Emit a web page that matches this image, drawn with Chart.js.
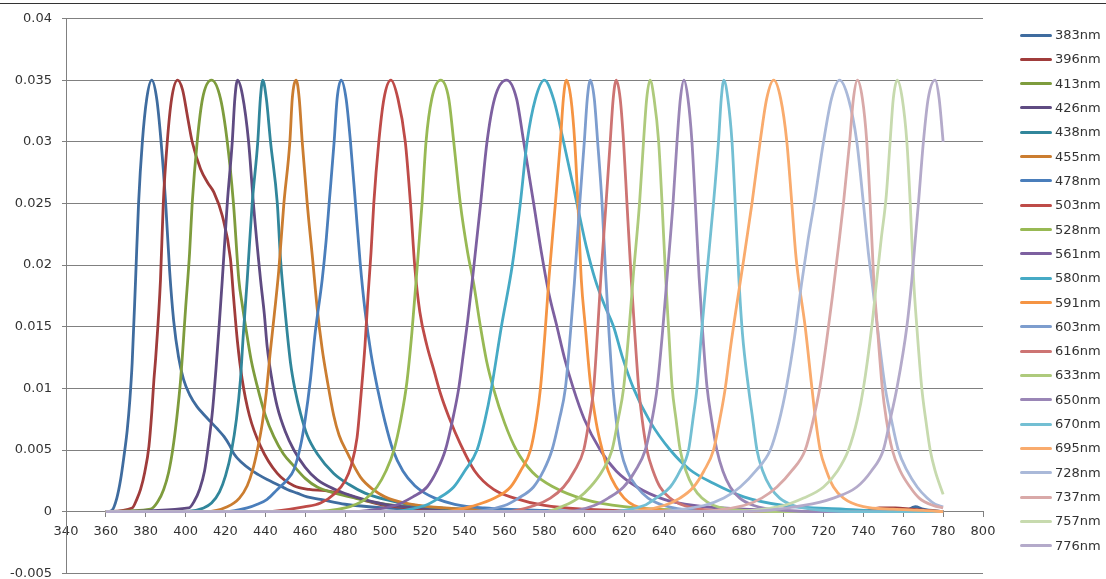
<!DOCTYPE html>
<html>
<head>
<meta charset="utf-8">
<script src="https://cdn.jsdelivr.net/npm/chart.js@4.4.1/dist/chart.umd.min.js"></script>
<style>
    html, body { margin: 0; padding: 0; background: #fff; }
    #wrap { position: relative; width: 1106px; height: 579px; overflow: hidden; }
    #topline { position: absolute; left: 0; top: 3px; width: 1106px; height: 1px; background: #333; }
    #legend { position: absolute; left: 1020px; top: 0; font-family: 'DejaVu Sans', sans-serif; font-size: 13px; color: #333; }
    .item { position: absolute; left: 0; height: 16px; white-space: nowrap; }
    .swatch { position: absolute; left: 0; top: 6.5px; width: 32px; height: 3px; border-radius: 1.5px; }
    .label { position: absolute; left: 35px; top: 0; line-height: 16px; }
</style>
</head>
<body>
<div id="wrap">
    <canvas id="chart" width="1106" height="579"></canvas>
    <div id="topline"></div>
    <div id="legend"></div>
</div>
<script>
// --- Data: [wavelength nm, value] ---
const names = ['383nm', '396nm', '413nm', '426nm', '438nm', '455nm', '478nm', '503nm', '528nm', '561nm', '580nm',
    '591nm', '603nm', '616nm', '633nm', '650nm', '670nm', '695nm', '728nm', '737nm', '757nm', '776nm']

const colors = ['#3f6c9f', '#a03c3b', '#7e9c3d', '#5f4b82', '#31869b', '#cb7d30', '#4a7ebb', '#be4b48', '#98b954', '#7d60a0', '#46aac5',
    '#f59443', '#7d9dce', '#cd7473', '#aeca7c', '#9a86b6', '#73bfd3', '#f9ab6d', '#aab9d9', '#d9a9a8', '#c7daae', '#b4aaca']

const xTicks = { min: 340, max: 800, step: 20 }
const yTicks = { min: -0.005, max: 0.04, step: 0.005 }

const s383 = [[360,0],[363,0.0001],[365.5,0.0011],[367.4,0.0026],[369,0.0044],[370.7,0.0066],[372,0.009],[373.2,0.0121],[374.9,0.0188],[376.4,0.025],[378.3,0.030],[380.5,0.0335],[383,0.035],[385.5,0.0335],[387.7,0.030],[390,0.025],[392,0.0195],[394,0.0155],[396.5,0.0125],[399,0.0107],[402,0.0095],[405.8,0.0085],[409,0.0079],[412.5,0.0073],[416,0.0067],[419.2,0.0061],[422,0.0054],[424.2,0.0047],[428,0.004],[432.6,0.0034],[436.5,0.003],[440.9,0.0026],[446,0.0022],[451,0.0018],[456,0.0015],[461,0.0012],[467.7,0.001],[480,0.0006],[500,0.0003],[530,0.0001],[600,0],[760,0],[766,0.0004],[770,0.0002],[780,0]]
const s396 = [[360,0],[373.2,0.0003],[375.5,0.001],[377.4,0.0018],[379.5,0.0032],[381.6,0.0053],[383,0.008],[384.1,0.0107],[385,0.0125],[387.4,0.0188],[388.8,0.025],[390.8,0.030],[393,0.0335],[396,0.035],[398.5,0.0342],[401,0.032],[403.3,0.030],[407.5,0.0278],[411,0.0267],[414.2,0.0259],[418.4,0.024],[422.5,0.0205],[424,0.0175],[426,0.0138],[428.4,0.0107],[432,0.0078],[437.6,0.0053],[446,0.0031],[454.3,0.0021],[462,0.0018],[470,0.0017],[480,0.0014],[490,0.0009],[500,0.0005],[520,0.0002],[560,0],[740,0],[748,0.0003],[756,0.0003],[764,0.0002],[780,0]]
const s413 = [[360,0],[382.4,0.0002],[386,0.0008],[389,0.0018],[391.5,0.0032],[393.5,0.005],[395.5,0.0075],[397.5,0.0107],[400,0.0165],[402,0.021],[403.3,0.025],[405.8,0.030],[408.5,0.0335],[413,0.035],[417.5,0.0335],[420.9,0.030],[424,0.025],[426.7,0.0188],[428.4,0.0168],[430.9,0.0142],[433,0.0122],[435.9,0.0102],[440,0.0078],[444.2,0.0061],[449,0.0047],[454.3,0.0037],[460,0.0027],[466,0.002],[475,0.0015],[485,0.0011],[500,0.0006],[520,0.0003],[560,0.0001],[600,0],[780,0]]
const s426 = [[360,0],[401.6,0.0003],[404.5,0.0009],[407,0.0018],[409.5,0.0033],[411.5,0.0055],[413.5,0.0082],[415.2,0.0115],[416.8,0.015],[418.4,0.0188],[420.9,0.025],[423.4,0.030],[424.7,0.0335],[426,0.035],[428.5,0.0338],[431.6,0.030],[434,0.025],[437.6,0.0188],[439.5,0.016],[440.9,0.0134],[443.5,0.0105],[446,0.0085],[450,0.0065],[454.3,0.005],[460,0.0036],[466,0.0026],[475,0.0018],[485,0.0012],[500,0.0006],[530,0.0002],[580,0],[780,0]]
const s438 = [[360,0],[400,0],[409,0.0003],[413,0.0007],[417,0.0016],[420,0.0029],[423,0.0049],[425.5,0.0075],[427.5,0.0107],[429,0.0145],[430.9,0.0188],[433.4,0.025],[436.2,0.030],[437.5,0.0335],[438.7,0.035],[440.5,0.0335],[442.6,0.030],[446,0.025],[447.6,0.0205],[449.3,0.0173],[452.6,0.0121],[455,0.0098],[457.6,0.008],[461,0.0062],[466,0.0047],[474.3,0.0031],[482,0.0022],[490,0.0015],[500,0.001],[520,0.0004],[560,0.0001],[600,0],[780,0]]
const s455 = [[360,0],[410,0],[420.9,0.0004],[427,0.0011],[430.9,0.0021],[433.5,0.0033],[436,0.005],[438.5,0.0072],[440.5,0.0097],[442.5,0.013],[444.5,0.016],[446.7,0.0195],[449.3,0.025],[452.3,0.030],[453.5,0.0335],[455.5,0.035],[457,0.0335],[458.5,0.030],[461,0.025],[463.7,0.0205],[466,0.0165],[468.5,0.0132],[471,0.0107],[474.3,0.0078],[477,0.0062],[481,0.0048],[487.7,0.0028],[494,0.0018],[500,0.0012],[510,0.0007],[530,0.0003],[560,0.0001],[600,0],[780,0]]
const s478 = [[360,0],[420,0],[430.9,0.0003],[436,0.0006],[440.9,0.001],[446,0.0018],[451,0.0026],[454.3,0.0034],[457.6,0.0053],[460,0.0075],[462.6,0.0107],[465,0.0145],[468.5,0.0188],[470.5,0.022],[472,0.025],[474.5,0.030],[476,0.0335],[478,0.035],[480.5,0.0335],[482.7,0.030],[485.2,0.025],[487.5,0.0203],[490,0.0163],[493,0.0128],[496.5,0.0098],[500,0.0073],[504,0.005],[509,0.0033],[515,0.0021],[520,0.0015],[525,0.0011],[535,0.0006],[550,0.0003],[580,0.0001],[620,0],[780,0]]
const s503 = [[360,0],[440,0],[460,0.0004],[467.7,0.0007],[475,0.0015],[480,0.0025],[483,0.0037],[486,0.006],[488,0.0095],[490,0.0135],[491.5,0.0175],[493,0.021],[494.4,0.025],[496.9,0.030],[499.5,0.0335],[503,0.035],[506.5,0.0335],[510.2,0.030],[512.8,0.025],[515,0.0198],[517.5,0.0162],[521,0.0135],[524.5,0.0115],[528,0.0095],[532,0.0077],[537.8,0.0055],[545,0.0033],[554.5,0.0018],[565,0.0011],[580,0.0005],[600,0.0002],[640,0],[780,0]]
const s528 = [[360,0],[460,0],[480,0.0003],[490,0.001],[496,0.002],[500.5,0.0033],[504.5,0.005],[508,0.0075],[511,0.0105],[513.5,0.0145],[516,0.0195],[518.6,0.025],[520.6,0.030],[523.5,0.0335],[528,0.035],[532,0.0335],[534.5,0.030],[537.8,0.025],[541.5,0.021],[544.5,0.0185],[547.9,0.015],[551,0.0122],[554.4,0.01],[560,0.0072],[565.9,0.005],[574,0.0032],[584.5,0.002],[600,0.001],[620,0.0004],[650,0.0001],[700,0],[780,0]]
const s561 = [[360,0],[480,0],[505,0.0005],[514,0.0012],[521.1,0.002],[526,0.0033],[530.3,0.005],[534,0.0075],[537,0.01],[539.5,0.013],[541.5,0.0155],[544,0.019],[548,0.025],[551.2,0.030],[555,0.0335],[561,0.035],[566,0.0335],[569.6,0.030],[574.6,0.025],[578.5,0.021],[582.1,0.0178],[586.3,0.015],[590,0.0125],[594.5,0.01],[600,0.0075],[608,0.005],[616,0.0033],[626.4,0.002],[640,0.001],[655,0.0005],[680,0.0002],[720,0],[780,0]]
const s580 = [[360,0],[500,0],[520,0.0005],[527,0.0011],[534.5,0.002],[540,0.0033],[546.2,0.005],[550,0.0073],[553.4,0.01],[558.4,0.015],[563.9,0.02],[567.9,0.025],[571.3,0.030],[575.5,0.0335],[580,0.035],[584.5,0.0335],[589.6,0.030],[596.3,0.025],[601,0.0215],[605.5,0.0188],[610,0.0168],[614.7,0.015],[619,0.0126],[624.7,0.01],[633,0.0073],[643.1,0.005],[653,0.0034],[664.7,0.0023],[680,0.0012],[700,0.0005],[730,0.0002],[760,0],[780,0]]
const s591 = [[360,0],[530,0],[545,0.0005],[555,0.0011],[563,0.002],[568,0.0033],[573,0.005],[576,0.0075],[578,0.01],[580.3,0.0145],[582.3,0.019],[585.5,0.025],[588,0.030],[589.5,0.0335],[591,0.035],[593.3,0.0335],[595.2,0.030],[596.8,0.025],[598.5,0.0188],[600.5,0.015],[603,0.0105],[606,0.0072],[609,0.005],[612,0.0033],[616,0.002],[620,0.0011],[625,0.0005],[640,0.0001],[660,0],[780,0]]
const s603 = [[360,0],[540,0],[560,0.0005],[567,0.0011],[574.5,0.002],[579.5,0.0033],[583.8,0.005],[587.5,0.0075],[590.5,0.01],[593.2,0.0148],[595,0.0185],[597.7,0.025],[600,0.030],[601.5,0.0335],[603,0.035],[605,0.0335],[606.7,0.030],[608.9,0.025],[610.8,0.019],[612.4,0.0145],[614.1,0.0105],[616,0.0074],[618.3,0.005],[621.5,0.0033],[626.4,0.002],[632,0.0011],[640,0.0005],[655,0.0001],[680,0],[780,0]]
const s616 = [[360,0],[560,0],[575,0.0005],[583,0.0011],[589.6,0.002],[595,0.0033],[599.7,0.005],[602.5,0.0075],[604.7,0.01],[606.6,0.0145],[608.3,0.019],[610.9,0.025],[613,0.030],[614.5,0.0335],[616,0.035],[618,0.0335],[619.7,0.030],[621.4,0.025],[623.5,0.019],[625.3,0.0145],[627.3,0.01],[629,0.0075],[631.4,0.005],[634.5,0.0033],[638,0.002],[643,0.0011],[650,0.0005],[665,0.0001],[690,0],[780,0]]
const s633 = [[360,0],[580,0],[590,0.0005],[597,0.0011],[603,0.002],[609,0.0033],[613.9,0.005],[617,0.0075],[619.7,0.01],[622.3,0.0145],[624.5,0.019],[627.7,0.025],[629.7,0.030],[631.3,0.0335],[633,0.035],[635,0.0335],[637.3,0.030],[639,0.025],[640.8,0.019],[642.4,0.0145],[644,0.0102],[646,0.0075],[648.1,0.005],[651,0.0033],[654.6,0.002],[659,0.0011],[665,0.0005],[680,0.0001],[700,0],[780,0]]
const s650 = [[360,0],[590,0],[605,0.0005],[612,0.0011],[619.7,0.002],[625.5,0.0033],[630.6,0.005],[634,0.0075],[636.5,0.01],[639.2,0.0145],[641.5,0.019],[644.5,0.025],[646.5,0.030],[648.2,0.0335],[650,0.035],[652,0.0335],[654,0.030],[655.7,0.025],[657.6,0.019],[659.4,0.0145],[661.5,0.0102],[663.8,0.0075],[666.5,0.005],[669.5,0.0033],[673.2,0.002],[678,0.0011],[685,0.0005],[700,0.0001],[720,0],[780,0]]
const s670 = [[360,0],[610,0],[630,0.0005],[636,0.0011],[643.1,0.002],[648,0.0033],[652.3,0.005],[654.5,0.0075],[656.5,0.01],[658.8,0.0145],[661.3,0.019],[664.8,0.025],[667.3,0.030],[668.7,0.0335],[670,0.035],[672,0.0335],[674.1,0.030],[675.7,0.025],[677.5,0.019],[679.3,0.0145],[682.4,0.01],[684.5,0.0075],[686.6,0.005],[689.5,0.0033],[693.3,0.002],[698,0.0011],[705,0.0005],[720,0.0001],[740,0],[780,0]]
const s695 = [[360,0],[620,0],[640,0.0005],[648,0.0011],[654.8,0.002],[660,0.0033],[664.8,0.005],[668,0.0075],[670.7,0.01],[673.5,0.0135],[676.5,0.0168],[680,0.0205],[684.1,0.025],[688.2,0.030],[691.5,0.0335],[695,0.035],[698.5,0.0335],[701.6,0.030],[704.1,0.025],[706,0.021],[707.5,0.0188],[710.8,0.015],[714.2,0.01],[716,0.0075],[718.3,0.005],[721.5,0.0033],[725,0.002],[730,0.0011],[740,0.0004],[755,0.0002],[770,0.0001],[780,0]]
const s728 = [[360,0],[630,0],[660,0.0005],[670,0.0011],[678.2,0.002],[686,0.0033],[693.3,0.005],[697.5,0.0072],[701.5,0.0102],[705.5,0.0142],[709,0.0185],[712.2,0.022],[715.3,0.025],[720,0.030],[724,0.0335],[728,0.035],[732.5,0.0335],[736.7,0.030],[740,0.025],[742.5,0.021],[744.2,0.0188],[747,0.015],[751,0.01],[754,0.0075],[757.5,0.005],[762,0.0033],[767,0.002],[772,0.0011],[776,0.0006],[780,0.0004]]
const s737 = [[360,0],[650,0],[680,0.0005],[689,0.0011],[696.6,0.002],[704,0.0033],[710.8,0.005],[714.5,0.0072],[718.3,0.0102],[721.5,0.0138],[724.5,0.0175],[727.5,0.0215],[730,0.025],[733.1,0.030],[735,0.0335],[737,0.035],[739.5,0.0335],[741.7,0.030],[743.4,0.025],[745.2,0.0188],[747,0.015],[749.5,0.01],[751.5,0.0075],[754.5,0.005],[758.5,0.0033],[763.4,0.002],[768,0.0011],[775,0.0005],[780,0.0003]]
const s757 = [[360,0],[670,0],[700,0.0005],[710,0.0011],[720,0.002],[727,0.0033],[732.5,0.005],[737,0.0075],[740,0.01],[744.2,0.015],[746.7,0.0188],[749,0.0222],[751.4,0.0255],[753.4,0.030],[755,0.0335],[757,0.035],[759.5,0.0335],[761.8,0.030],[763.5,0.025],[765.2,0.0188],[766.8,0.015],[769.3,0.01],[771.5,0.0072],[773.5,0.005],[776,0.0033],[780,0.0014]]
const s776 = [[360,0],[680,0],[710,0.0005],[725,0.0011],[736.7,0.002],[744,0.0033],[750,0.005],[753.5,0.0075],[756.8,0.01],[761.8,0.015],[764.3,0.0188],[766,0.022],[767.6,0.025],[770.1,0.030],[772.5,0.0335],[776,0.035],[778,0.0335],[780,0.030]]

const series = [s383, s396, s413, s426, s438, s455, s478, s503, s528, s561, s580,
    s591, s603, s616, s633, s650, s670, s695, s728, s737, s757, s776]

// --- Style ---
const FONT = "'DejaVu Sans', sans-serif"
const TEXT = '#333'
const GRID = '#808080'

// ==========================================================================
// CHART
// ==========================================================================

const datasets = series.map((pts, i) => ({
    label: names[i],
    data: pts,
    borderColor: colors[i],
    backgroundColor: colors[i],
    borderWidth: 2.8,
    pointRadius: 0,
    fill: false,
    cubicInterpolationMode: 'monotone',
    order: series.length - i,   // later series on top, like the original
}))

new Chart(document.getElementById('chart'), {
    type: 'line',
    data: { datasets },
    options: {
        responsive: false,
        animation: false,
        devicePixelRatio: 1,
        layout: { padding: { left: 0, right: 123, top: 18.5, bottom: 5.7 } },
        plugins: { legend: { display: false }, tooltip: { enabled: false } },
        scales: {
            x: {
                type: 'linear',
                position: { y: 0 },
                min: xTicks.min, max: xTicks.max,
                ticks: { stepSize: xTicks.step, color: TEXT, font: { family: FONT, size: 13 }, padding: 7.5, maxRotation: 0 },
                grid: { drawOnChartArea: false, drawTicks: true, tickLength: 5, color: GRID },
                border: { display: true, color: GRID, width: 1 },
            },
            y: {
                type: 'linear',
                min: yTicks.min, max: yTicks.max,
                ticks: {
                    stepSize: yTicks.step, color: TEXT, font: { family: FONT, size: 13 }, padding: 10,
                    callback: v => String(Number(v.toFixed(4)) || 0),
                },
                grid: { color: GRID, tickLength: 4 },
                border: { display: true, color: GRID, width: 1 },
                // fixed axis width; label overhang should not shrink the plot
                afterFit: scale => { scale.width = 66; scale.paddingTop = 0; scale.paddingBottom = 0 },
            },
        },
    },
})

// ==========================================================================
// LEGEND
// ==========================================================================

const legendEl = document.getElementById('legend')
names.forEach((name, i) => {
    const el = document.createElement('div')
    el.className = 'item'
    el.style.top = (35 + i * 24.32 - 8) + 'px'
    el.innerHTML = `<span class="swatch" style="background:${colors[i]}"></span><span class="label">${name}</span>`
    legendEl.appendChild(el)
})
</script>
</body>
</html>
